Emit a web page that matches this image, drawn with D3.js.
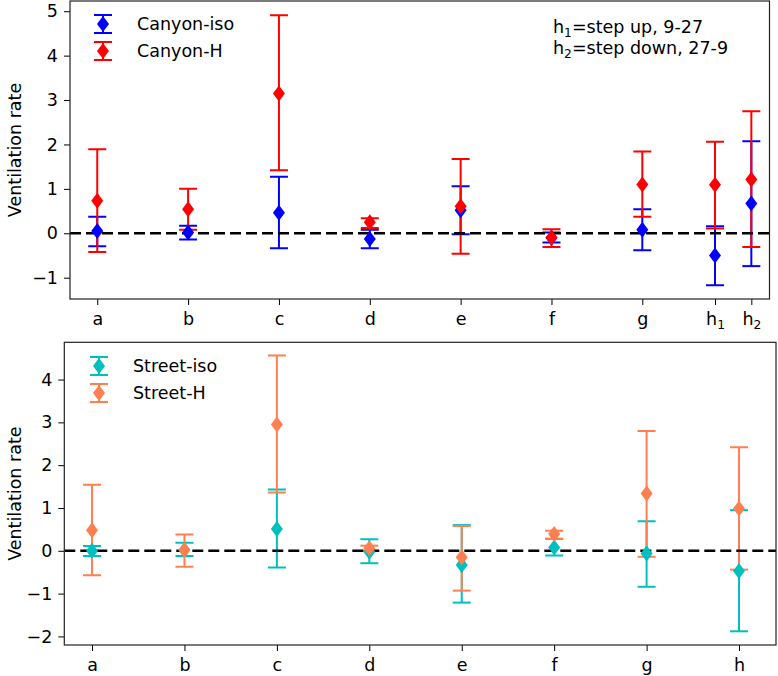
<!DOCTYPE html>
<html>
<head>
<meta charset="utf-8">
<script src="https://cdnjs.cloudflare.com/ajax/libs/d3/7.8.5/d3.min.js"></script>
<style>
body{margin:0;background:#fff;}
svg text{font-family:"DejaVu Sans",sans-serif;fill:#000;}
</style>
</head>
<body>
<svg id="chart" width="778" height="676"></svg>
<script>
// top panel (canyon) data
var topCats = ['a','b','c','d','e','f','g','h1','h2'];
var topX = [0,1,2,3,4,5,6,6.8,7.2];
var topYTicks = [-1,0,1,2,3,4,5];
var canyonIso   = [0.05, 0.02, 0.46,-0.13, 0.52,-0.10, 0.08,-0.50, 0.67];
var canyonIsoLo = [-0.29,-0.14,-0.34,-0.34,-0.02,-0.21,-0.38,-1.17,-0.74];
var canyonIsoHi = [0.37, 0.17, 1.27, 0.08, 1.06, 0.02, 0.54, 0.16, 2.07];
var canyonH     = [0.73, 0.54, 3.15, 0.25, 0.61,-0.10, 1.10, 1.09, 1.21];
var canyonHLo   = [-0.42, 0.08, 1.42, 0.12,-0.46,-0.31, 0.37, 0.11,-0.31];
var canyonHHi   = [1.89, 1.00, 4.91, 0.34, 1.67, 0.09, 1.84, 2.06, 2.75];
var noteLines = ['h1=step up, 9-27','h2=step down, 27-9'];

// bottom panel (street) data
var botCats = ['a','b','c','d','e','f','g','h'];
var botX = [0,1,2,3,4,5,6,7];
var botYTicks = [-2,-1,0,1,2,3,4];
var streetIso   = [0.00, 0.02, 0.51,-0.02,-0.33, 0.08,-0.06,-0.47];
var streetIsoLo = [-0.12,-0.12,-0.39,-0.29,-1.21,-0.11,-0.84,-1.88];
var streetIsoHi = [0.11, 0.19, 1.43, 0.27, 0.60, 0.28, 0.69, 0.95];
var streetH     = [0.48, 0.02, 2.95, 0.06,-0.15, 0.39, 1.34, 0.99];
var streetHLo   = [-0.57,-0.37, 1.36, 0.00,-0.93, 0.28,-0.14,-0.44];
var streetHHi   = [1.54, 0.38, 4.56, 0.12, 0.58, 0.47, 2.80, 2.42];

var svg = d3.select('#chart');
var FS = 17.5;
var diamond = 'M0,-8L6,0L0,8L-6,0Z';

// write "h1" style labels with subscript digit
function subText(sel, str){
    sel.text(null);
    var m = str.match(/^([a-z])(\d)(.*)$/);
    if(!m){ sel.text(str); return; }
    sel.append('tspan').text(m[1]);
    sel.append('tspan').attr('font-size', FS*0.7).attr('dy', 4).text(m[2]);
    if(m[3]) sel.append('tspan').attr('dy', -4).text(m[3]);
}

function panel(opt){
    var g = svg.append('g');
    var x = d3.scaleLinear().domain(opt.xDomain).range([opt.left, opt.right]);
    var y = d3.scaleLinear().domain(opt.yDomain).range([opt.bottom, opt.top]);

    // x axis
    var xa = g.append('g').attr('transform', 'translate(0,' + opt.bottom + ')')
        .call(d3.axisBottom(x).tickValues(opt.xs).tickSize(6).tickPadding(7.5)
            .tickFormat(function(d, i){ return opt.cats[i]; }));
    xa.select('.domain').remove();
    xa.selectAll('line').attr('stroke', '#000').attr('stroke-width', 1);
    xa.selectAll('text').attr('font-size', FS).each(function(d, i){ subText(d3.select(this), opt.cats[i]); });

    // y axis
    var ya = g.append('g').attr('transform', 'translate(' + opt.left + ',0)')
        .call(d3.axisLeft(y).tickValues(opt.yTicks).tickSize(6).tickPadding(6)
            .tickFormat(function(d){ return d < 0 ? '\u2212' + Math.abs(d) : d; }));
    ya.select('.domain').remove();
    ya.selectAll('line').attr('stroke', '#000').attr('stroke-width', 1);
    ya.selectAll('text').attr('font-size', FS);

    g.append('text')
        .attr('transform', 'translate(' + opt.labelX + ',' + ((opt.top + opt.bottom) / 2) + ') rotate(-90)')
        .attr('text-anchor', 'middle').attr('dy', '0.35em')
        .attr('font-size', FS).text('Ventilation rate');

    var clipId = 'clip' + opt.id;
    g.append('clipPath').attr('id', clipId).append('rect')
        .attr('x', opt.left).attr('y', opt.top)
        .attr('width', opt.right - opt.left).attr('height', opt.bottom - opt.top);
    var plot = g.append('g').attr('clip-path', 'url(#' + clipId + ')');

    // error bars
    opt.series.forEach(function(s){
        var eb = plot.append('g').attr('stroke', s.color).attr('stroke-width', 2);
        eb.selectAll('.bar').data(s.vals).enter().append('line')
            .attr('x1', function(d, i){ return x(opt.xs[i]); })
            .attr('x2', function(d, i){ return x(opt.xs[i]); })
            .attr('y1', function(d, i){ return y(s.lo[i]); })
            .attr('y2', function(d, i){ return y(s.hi[i]); });
        [s.lo, s.hi].forEach(function(arr){
            eb.selectAll(null).data(arr).enter().append('line')
                .attr('x1', function(d, i){ return x(opt.xs[i]) - 9; })
                .attr('x2', function(d, i){ return x(opt.xs[i]) + 9; })
                .attr('y1', function(d){ return y(d); })
                .attr('y2', function(d){ return y(d); });
        });
    });

    // zero line
    plot.append('line')
        .attr('x1', opt.left).attr('x2', opt.right)
        .attr('y1', y(0)).attr('y2', y(0))
        .attr('stroke', '#000').attr('stroke-width', 2.5).attr('stroke-dasharray', '11,5');

    // markers
    opt.series.forEach(function(s){
        plot.append('g').selectAll('path').data(s.vals).enter().append('path')
            .attr('d', diamond).attr('fill', s.color)
            .attr('transform', function(d, i){ return 'translate(' + x(opt.xs[i]) + ',' + y(d) + ')'; });
    });

    // frame
    g.append('rect')
        .attr('x', opt.left).attr('y', opt.top)
        .attr('width', opt.right - opt.left).attr('height', opt.bottom - opt.top)
        .attr('fill', 'none').attr('stroke', '#222').attr('stroke-width', 1.2);

    // legend
    opt.series.forEach(function(s, k){
        var ly = opt.legY + k * 27;
        var lg = g.append('g').attr('transform', 'translate(' + opt.legX + ',' + ly + ')');
        lg.append('line').attr('y1', -9).attr('y2', 9).attr('stroke', s.color).attr('stroke-width', 2);
        lg.append('line').attr('x1', -9).attr('x2', 9).attr('y1', -9).attr('y2', -9).attr('stroke', s.color).attr('stroke-width', 2);
        lg.append('line').attr('x1', -9).attr('x2', 9).attr('y1', 9).attr('y2', 9).attr('stroke', s.color).attr('stroke-width', 2);
        lg.append('path').attr('d', diamond).attr('fill', s.color);
        lg.append('text').attr('x', 34).attr('dy', '0.36em').attr('font-size', FS).text(s.name);
    });
    return {g: g, x: x, y: y};
}

var topPanel = panel({
    id: 'top', left: 70, right: 769.5, top: 1, bottom: 299, labelX: 15,
    xDomain: [-0.3, 7.4], yDomain: [-1.48, 5.23],
    xs: topX, cats: topCats, yTicks: topYTicks,
    legX: 103, legY: 24,
    series: [
        {name: 'Canyon-iso', color: '#0000ff', vals: canyonIso, lo: canyonIsoLo, hi: canyonIsoHi},
        {name: 'Canyon-H', color: '#ff0000', vals: canyonH, lo: canyonHLo, hi: canyonHHi}
    ]
});

noteLines.forEach(function(t, i){
    var tx = topPanel.g.append('text').attr('x', 553).attr('y', 32.5 + i * 21.5).attr('font-size', FS);
    subText(tx, t);
});

panel({
    id: 'bot', left: 64.3, right: 776, top: 342.3, bottom: 645, labelX: 15,
    xDomain: [-0.3, 7.4], yDomain: [-2.2, 4.87],
    xs: botX, cats: botCats, yTicks: botYTicks,
    legX: 99, legY: 366,
    series: [
        {name: 'Street-iso', color: '#00bfbf', vals: streetIso, lo: streetIsoLo, hi: streetIsoHi},
        {name: 'Street-H', color: '#ff7f50', vals: streetH, lo: streetHLo, hi: streetHHi}
    ]
});
</script>
</body>
</html>
